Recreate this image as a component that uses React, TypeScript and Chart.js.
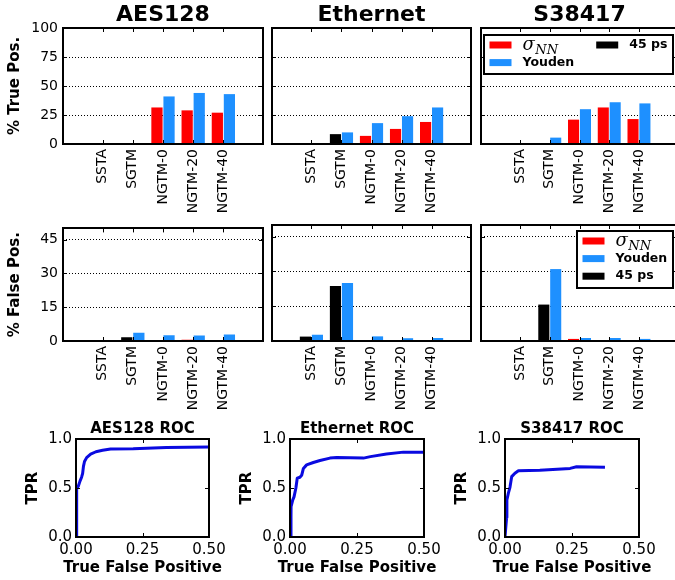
import React, { useEffect, useRef } from 'react';
import { Chart, registerables } from 'chart.js';

Chart.register(...registerables);
Chart.defaults.font.family = '"DejaVu Sans", sans-serif';
Chart.defaults.color = '#000';

// ---------- data ----------
const categories = ['SSTA', 'SGTM', 'NGTM-0', 'NGTM-20', 'NGTM-40'];
const seriesLabels = ['σ_NN', 'Youden', '45 ps'];

const tpTicks = [0, 25, 50, 75, 100];
const fpTicks = [0, 15, 30, 45];
const rocXTicks = [0, 0.25, 0.5];
const rocYTicks = [0, 0.5, 1];

// % true positives
const aesTpSigma = [null, null, 31.5, 29, 27];
const aesTpYouden = [null, null, 41, 44, 43];
const aesTp45 = [null, null, null, null, null];

const ethTpSigma = [null, null, 7, 13, 19];
const ethTpYouden = [null, 10, 18, 24, 31.5];
const ethTp45 = [null, 8.5, null, null, null];

const s38TpSigma = [null, null, 21, 31.5, 21.5];
const s38TpYouden = [null, 5.5, 30, 36, 35];
const s38Tp45 = [null, null, null, null, null];

// % false positives
const aesFpSigma = [null, null, null, 0.5, null];
const aesFpYouden = [null, 3.7, 2.6, 2.4, 2.9];
const aesFp45 = [null, 1.7, null, null, null];

const ethFpSigma = [null, null, null, null, null];
const ethFpYouden = [2.7, 25, 2.0, 1.2, 1.3];
const ethFp45 = [1.9, 23.7, null, null, null];

const s38FpSigma = [null, null, 0.9, null, null];
const s38FpYouden = [null, 31, 1.3, 1.3, 0.9];
const s38Fp45 = [null, 15.7, null, null, null];

// ROC curves
const aesRocFpr = [0, 0.002, 0.003, 0.009, 0.015, 0.021, 0.025, 0.028, 0.032, 0.04, 0.055, 0.075, 0.1, 0.13, 0.215, 0.34, 0.5];
const aesRocTpr = [0, 0.3, 0.49, 0.52, 0.57, 0.61, 0.65, 0.72, 0.77, 0.81, 0.845, 0.87, 0.885, 0.897, 0.9, 0.912, 0.918];

const ethRocFpr = [0, 0.0037, 0.004, 0.01, 0.015, 0.022, 0.027, 0.037, 0.0435, 0.05, 0.062, 0.087, 0.112, 0.149, 0.174, 0.274, 0.3, 0.36, 0.423, 0.5];
const ethRocTpr = [0, 0.2, 0.31, 0.377, 0.41, 0.5, 0.6, 0.61, 0.63, 0.7, 0.736, 0.76, 0.78, 0.805, 0.81, 0.805, 0.82, 0.846, 0.866, 0.866];

const s38RocFpr = [0, 0.006, 0.007, 0.0124, 0.0187, 0.025, 0.037, 0.05, 0.13, 0.243, 0.267, 0.373];
const s38RocTpr = [0, 0.2, 0.377, 0.445, 0.51, 0.616, 0.65, 0.675, 0.68, 0.7, 0.716, 0.712];

// ---------- styles ----------
const RED = '#ff0000';
const BLUE = '#1e90ff';
const BLACK = '#000000';
const ROC_BLUE = '#0a0ae0';

// ---------- plugins ----------
const framePlugin = {
  id: 'mplFrame',
  afterDraw(chart: any) {
    const { ctx, chartArea: a, scales } = chart;
    const xs = scales.x;
    const ys = scales.y;
    const len = 4;
    ctx.save();
    ctx.strokeStyle = '#000';
    ctx.lineWidth = 1;
    ctx.beginPath();
    xs.ticks.forEach((t: any) => {
      const p = Math.round(xs.getPixelForValue(t.value)) + 0.5;
      ctx.moveTo(p, a.top);
      ctx.lineTo(p, a.top + len);
      ctx.moveTo(p, a.bottom);
      ctx.lineTo(p, a.bottom - len);
    });
    ys.ticks.forEach((t: any) => {
      const p = Math.round(ys.getPixelForValue(t.value)) + 0.5;
      ctx.moveTo(a.left, p);
      ctx.lineTo(a.left + len, p);
      ctx.moveTo(a.right, p);
      ctx.lineTo(a.right - len, p);
    });
    ctx.stroke();
    ctx.lineWidth = 2;
    ctx.strokeRect(Math.round(a.left), Math.round(a.top), Math.round(a.right - a.left), Math.round(a.bottom - a.top));
    ctx.restore();
  },
};

// x-axis title drawn centred under the plot without width squeezing
const xTitlePlugin = {
  id: 'xTitle',
  afterDraw(chart: any, _args: any, opts: any) {
    if (!opts || !opts.text) return;
    const { ctx, chartArea: a } = chart;
    ctx.save();
    ctx.font = opts.font;
    ctx.fillStyle = '#000';
    ctx.textAlign = 'center';
    ctx.textBaseline = 'middle';
    ctx.fillText(opts.text, (a.left + a.right) / 2, a.bottom + opts.offset);
    ctx.restore();
  },
};

const LEG_FONT = 'bold 12.5px "DejaVu Sans"';
const SIG_FONT = 'italic 18px "DejaVu Serif"';
const SUB_FONT = 'italic 13px "DejaVu Serif"';

function labelWidth(ctx: any, label: string) {
  if (label.includes('_')) {
    const [base, sub] = label.split('_');
    ctx.font = SIG_FONT;
    const w1 = ctx.measureText(base).width;
    ctx.font = SUB_FONT;
    return w1 + 0.5 + ctx.measureText(sub).width;
  }
  ctx.font = LEG_FONT;
  return ctx.measureText(label).width;
}

function drawLabel(ctx: any, label: string, x: number, cy: number) {
  ctx.fillStyle = '#000';
  ctx.textAlign = 'left';
  if (label.includes('_')) {
    const [base, sub] = label.split('_');
    ctx.font = SIG_FONT;
    ctx.textBaseline = 'alphabetic';
    ctx.fillText(base, x, cy + 4.5);
    const w = ctx.measureText(base).width;
    ctx.font = SUB_FONT;
    ctx.fillText(sub, x + w + 0.5, cy + 9);
  } else {
    ctx.font = LEG_FONT;
    ctx.textBaseline = 'middle';
    ctx.fillText(label, x, cy);
  }
}

const boxLegendPlugin = {
  id: 'boxLegend',
  afterDraw(chart: any, _args: any, opts: any) {
    if (!opts || !opts.display) return;
    const { ctx, chartArea: a } = chart;
    const items = chart.data.datasets.map((d: any) => ({ label: d.label, color: d.backgroundColor }));
    const cols = opts.columns || 1;
    const rows = Math.ceil(items.length / cols);
    const pad = 5.5, patchW = 22, patchH = 7, gap = 11, colSpacing = 22;
    const firstRow = 10, rowStep = 17.6, bottomPad = 11.5;
    ctx.save();
    const widths = items.map((it: any) => labelWidth(ctx, it.label));
    const colW: number[] = [];
    for (let c = 0; c < cols; c++) {
      let m = 0;
      for (let r = 0; r < rows; r++) {
        const i = c * rows + r;
        if (i < items.length) m = Math.max(m, widths[i]);
      }
      colW.push(patchW + gap + m);
    }
    const boxW = pad * 2 + colW.reduce((s, w) => s + w, 0) + colSpacing * (cols - 1);
    const boxH = firstRow + rowStep * (rows - 1) + bottomPad;
    const right = a.right - opts.offsetX;
    const top = Math.round(a.top + opts.offsetY);
    const left = Math.round(right - boxW);
    ctx.fillStyle = '#fff';
    ctx.fillRect(left, top, boxW, boxH);
    ctx.lineWidth = 2;
    ctx.strokeStyle = '#000';
    ctx.strokeRect(left, top, Math.round(boxW), Math.round(boxH));
    let x0 = left + pad;
    for (let c = 0; c < cols; c++) {
      for (let r = 0; r < rows; r++) {
        const i = c * rows + r;
        if (i >= items.length) continue;
        const cy = top + firstRow + r * rowStep;
        ctx.fillStyle = items[i].color;
        ctx.fillRect(x0, cy - patchH / 2, patchW, patchH);
        drawLabel(ctx, items[i].label, x0 + patchW + gap, cy);
      }
      x0 += colW[c] + colSpacing;
    }
    ctx.restore();
  },
};

// ---------- config builders ----------
const toXY = (vals: any[]) => vals.map((v, i) => ({ x: i, y: v }));

function barConfig(p: any) {
  const ds = (label: string, vals: any[], color: string, stack: string) => ({
    label,
    data: toXY(vals),
    backgroundColor: color,
    borderWidth: 0,
    stack,
    categoryPercentage: 0.8,
    barPercentage: 0.93,
  });
  return {
    type: 'bar',
    data: {
      datasets: [
        ds(seriesLabels[0], p.sigma, RED, 'left'),
        ds(seriesLabels[1], p.youden, BLUE, 'right'),
        ds(seriesLabels[2], p.ps, BLACK, 'left'),
      ],
    },
    plugins: [framePlugin, boxLegendPlugin],
    options: {
      responsive: false,
      animation: false,
      events: [],
      layout: { padding: { top: p.padTop, right: 4, left: 0, bottom: 0 } },
      plugins: {
        legend: { display: false },
        tooltip: { enabled: false },
        title: p.title
          ? {
              display: true,
              text: p.title,
              fullSize: false,
              color: '#000',
              font: { size: 22, weight: 'bold', lineHeight: 1 },
              padding: { top: 4.7, bottom: 1.3 },
            }
          : { display: false },
        boxLegend: p.legend || { display: false },
      },
      scales: {
        x: {
          type: 'linear',
          min: -0.65,
          max: 4.65,
          grid: { display: false, drawTicks: false },
          border: { display: false },
          afterBuildTicks: (s: any) => {
            s.ticks = categories.map((_, i) => ({ value: i }));
          },
          ticks: {
            callback: (v: any) => categories[Math.round(v)],
            minRotation: 90,
            maxRotation: 90,
            autoSkip: false,
            padding: 5,
            color: '#000',
            font: { size: 14 },
          },
          afterFit: (s: any) => {
            s.height = p.xAxisH;
          },
        },
        y: {
          min: 0,
          max: p.yMax,
          afterBuildTicks: (s: any) => {
            s.ticks = p.yTicks.map((v: number) => ({ value: v }));
          },
          grid: { color: '#000', lineWidth: 1, drawTicks: false },
          border: { display: false, dash: [1, 2] },
          ticks: { display: !!p.showY, padding: 5, color: '#000', font: { size: 14 } },
          title: {
            display: !!p.showY,
            text: p.yLabel,
            color: '#000',
            font: { size: 15, weight: 'bold', lineHeight: 1.2 },
            padding: { top: 6, bottom: 0 },
          },
          afterFit: (s: any) => {
            s.width = 63;
          },
        },
      },
    },
  };
}

function rocConfig(title: string, fpr: number[], tpr: number[]) {
  return {
    type: 'line',
    data: {
      datasets: [
        {
          label: title,
          data: fpr.map((x, i) => ({ x, y: tpr[i] })),
          borderColor: ROC_BLUE,
          borderWidth: 3,
          borderJoinStyle: 'round',
          pointRadius: 0,
          tension: 0,
          fill: false,
        },
      ],
    },
    plugins: [framePlugin, xTitlePlugin],
    options: {
      responsive: false,
      animation: false,
      events: [],
      layout: { padding: { top: 0, right: 24, left: 0, bottom: 0 } },
      plugins: {
        legend: { display: false },
        tooltip: { enabled: false },
        title: {
          display: true,
          text: title,
          fullSize: false,
          color: '#000',
          font: { size: 15, weight: 'bold', lineHeight: 1 },
          padding: { top: 11.5, bottom: 2.5 },
        },
        xTitle: { text: 'True False Positive', font: 'bold 15px "DejaVu Sans"', offset: 31 },
      },
      scales: {
        x: {
          type: 'linear',
          min: 0,
          max: 0.5,
          afterBuildTicks: (s: any) => {
            s.ticks = rocXTicks.map((v) => ({ value: v }));
          },
          grid: { display: false, drawTicks: false },
          border: { display: false },
          ticks: {
            callback: (v: any) => Number(v).toFixed(2),
            maxRotation: 0,
            minRotation: 0,
            padding: 4,
            color: '#000',
            font: { size: 15 },
          },
          afterFit: (s: any) => {
            s.height = 43;
          },
        },
        y: {
          type: 'linear',
          min: 0,
          max: 1,
          afterBuildTicks: (s: any) => {
            s.ticks = rocYTicks.map((v) => ({ value: v }));
          },
          grid: { display: false, drawTicks: false },
          border: { display: false },
          ticks: {
            callback: (v: any) => Number(v).toFixed(1),
            padding: 4,
            color: '#000',
            font: { size: 15 },
          },
          title: {
            display: true,
            text: 'TPR',
            color: '#000',
            font: { size: 15, weight: 'bold', lineHeight: 1.2 },
            padding: { top: 24.5, bottom: 0 },
          },
          afterFit: (s: any) => {
            s.width = 76;
          },
        },
      },
    },
  };
}

// ---------- layout ----------
const tpCommon = { yMax: 100, yTicks: tpTicks, yLabel: '% True Pos.', padTop: 0, xAxisH: 80 };
const fpCommon = { yMax: 50, yTicks: fpTicks, yLabel: '% False Pos.', padTop: 10, xAxisH: 75 };

const panels = [
  { key: 'tp-aes', left: 0, top: 0, width: 267, height: 224,
    make: () => barConfig({ ...tpCommon, showY: true, title: 'AES128', sigma: aesTpSigma, youden: aesTpYouden, ps: aesTp45 }) },
  { key: 'tp-eth', left: 209, top: 0, width: 266, height: 224,
    make: () => barConfig({ ...tpCommon, title: 'Ethernet', sigma: ethTpSigma, youden: ethTpYouden, ps: ethTp45 }) },
  { key: 'tp-s38', left: 418, top: 0, width: 264, height: 224,
    make: () => barConfig({ ...tpCommon, title: 'S38417', sigma: s38TpSigma, youden: s38TpYouden, ps: s38Tp45,
      legend: { display: true, columns: 2, offsetX: 5.5, offsetY: 6.5 } }) },
  { key: 'fp-aes', left: 0, top: 215, width: 267, height: 201,
    make: () => barConfig({ ...fpCommon, showY: true, sigma: aesFpSigma, youden: aesFpYouden, ps: aesFp45 }) },
  { key: 'fp-eth', left: 209, top: 215, width: 266, height: 201,
    make: () => barConfig({ ...fpCommon, sigma: ethFpSigma, youden: ethFpYouden, ps: ethFp45 }) },
  { key: 'fp-s38', left: 418, top: 215, width: 264, height: 201,
    make: () => barConfig({ ...fpCommon, sigma: s38FpSigma, youden: s38FpYouden, ps: s38Fp45,
      legend: { display: true, columns: 1, offsetX: 5.5, offsetY: 6 } }) },
  { key: 'roc-aes', left: 0, top: 410, width: 76 + 133 + 24, height: 170,
    make: () => rocConfig('AES128 ROC', aesRocFpr, aesRocTpr) },
  { key: 'roc-eth', left: 214, top: 410, width: 76 + 134 + 24, height: 170,
    make: () => rocConfig('Ethernet ROC', ethRocFpr, ethRocTpr) },
  { key: 'roc-s38', left: 429, top: 410, width: 76 + 134 + 24, height: 170,
    make: () => rocConfig('S38417 ROC', s38RocFpr, s38RocTpr) },
];

function ChartPanel({ left, top, width, height, make }: any) {
  const ref = useRef<HTMLCanvasElement | null>(null);
  useEffect(() => {
    const chart = new Chart(ref.current as any, make() as any);
    return () => chart.destroy();
  }, []);
  return (
    <canvas
      ref={ref}
      width={width}
      height={height}
      style={{ position: 'absolute', left, top, width, height }}
    />
  );
}

export default function App() {
  return (
    <div
      style={{
        position: 'fixed',
        left: 0,
        top: 0,
        width: 675,
        height: 580,
        overflow: 'hidden',
        background: '#fff',
      }}
    >
      {panels.map((p) => (
        <ChartPanel key={p.key} left={p.left} top={p.top} width={p.width} height={p.height} make={p.make} />
      ))}
    </div>
  );
}
